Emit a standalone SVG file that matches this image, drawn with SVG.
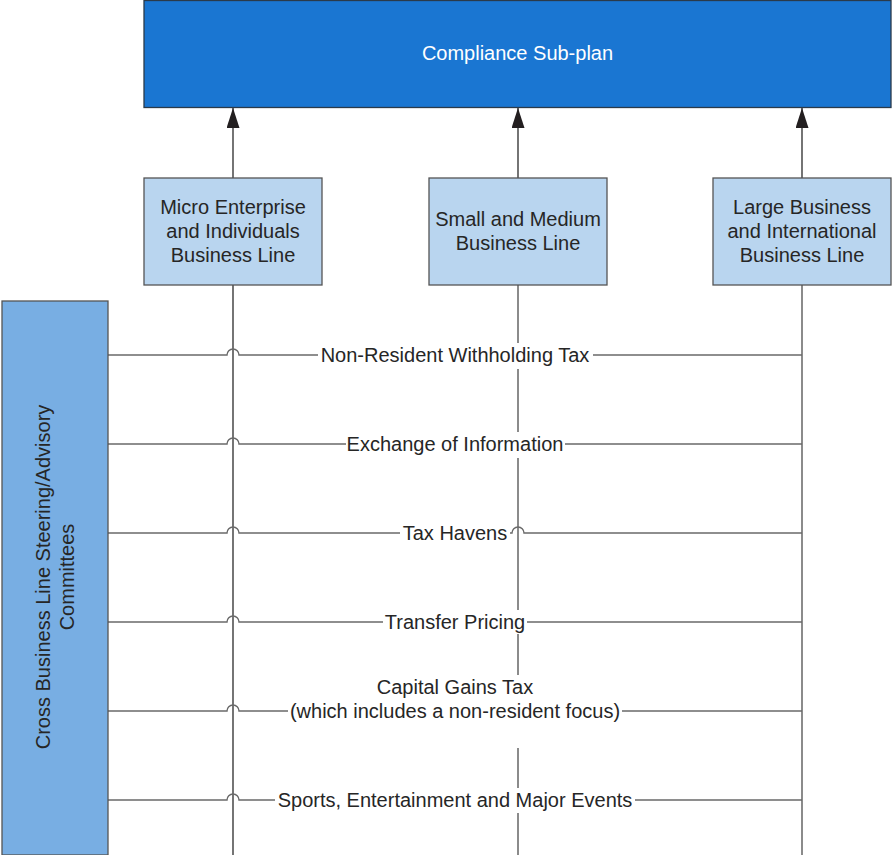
<svg xmlns="http://www.w3.org/2000/svg" width="892" height="855" viewBox="0 0 892 855">
<style>
text{font-family:"Liberation Sans",Arial,sans-serif;font-size:20px;fill:#262626;text-anchor:middle}
.bl{fill:#b9d5ef;stroke:#555;stroke-width:1.3}
.v{fill:none;stroke:#5a5a5a;stroke-width:1.4}
.vd{fill:none;stroke:#2a2a2a;stroke-width:1.3}
.h{fill:none;stroke:#6a6a6a;stroke-width:1.4}
.bg{fill:#fff}
</style>
<defs>
<marker id="ah" viewBox="0 0 20 13" refX="20" refY="6.5" markerWidth="20" markerHeight="13" markerUnits="userSpaceOnUse" orient="auto">
<path d="M0,0 L20,6.5 L0,13 Z" fill="#231f20"/>
</marker>
</defs>
<g id="compliance-subplan">
<rect x="144" y="0.5" width="747" height="107" fill="#1a76d2" stroke="#2a3a4a" stroke-width="1.3"/>
<text x="517.5" y="60" style="fill:#fff">Compliance Sub-plan</text>
</g>
<g id="connectors">
<path class="vd" d="M233,285 V855"/>
<path class="v" d="M518,285 V855"/>
<path class="v" d="M802,285 V855"/>
<path class="vd" d="M233,178 V108" marker-end="url(#ah)"/>
<path class="vd" d="M518,178 V108" marker-end="url(#ah)"/>
<path class="vd" d="M802,178 V108" marker-end="url(#ah)"/>
<path class="h" d="M108,355 H227 A6,6 0 0 1 239,355 H802"/>
<path class="h" d="M108,444 H227 A6,6 0 0 1 239,444 H802"/>
<path class="h" d="M108,533 H227 A6,6 0 0 1 239,533 H512 A6,6 0 0 1 524,533 H802"/>
<path class="h" d="M108,622 H227 A6,6 0 0 1 239,622 H802"/>
<path class="h" d="M108,711 H227 A6,6 0 0 1 239,711 H802"/>
<path class="h" d="M108,800 H227 A6,6 0 0 1 239,800 H802"/>
<rect class="bg" x="318" y="343" width="275" height="26"/>
<text x="455" y="362">Non-Resident Withholding Tax</text>
<rect class="bg" x="346" y="432" width="219" height="26"/>
<text x="455" y="451">Exchange of Information</text>
<rect class="bg" x="400" y="521" width="110" height="25"/>
<text x="455" y="540">Tax Havens</text>
<rect class="bg" x="383" y="610" width="144" height="24"/>
<text x="455" y="629">Transfer Pricing</text>
<rect class="bg" x="288" y="675" width="334" height="73"/>
<text x="455" y="694">Capital Gains Tax</text>
<text x="455" y="718">(which includes a non-resident focus)</text>
<rect class="bg" x="275" y="788" width="360" height="25"/>
<text x="455" y="807">Sports, Entertainment and Major Events</text>
</g>
<g id="micro-enterprise">
<rect class="bl" x="144" y="178" width="178" height="107"/>
<text x="233" y="214">Micro Enterprise</text>
<text x="233" y="238">and Individuals</text>
<text x="233" y="262">Business Line</text>
</g>
<g id="small-medium">
<rect class="bl" x="429" y="178" width="178" height="107"/>
<text x="518" y="226">Small and Medium</text>
<text x="518" y="250">Business Line</text>
</g>
<g id="large-business">
<rect class="bl" x="713" y="178" width="178" height="107"/>
<text x="802" y="214">Large Business</text>
<text x="802" y="238">and International</text>
<text x="802" y="262">Business Line</text>
</g>
<g id="cross-business">
<rect x="2" y="301" width="106" height="554" fill="#78aee3" stroke="#555" stroke-width="1.3"/>
<g transform="translate(55,577) rotate(-90)">
<text x="0" y="-5">Cross Business Line Steering/Advisory</text>
<text x="0" y="19">Committees</text>
</g>
</g>
</svg>
